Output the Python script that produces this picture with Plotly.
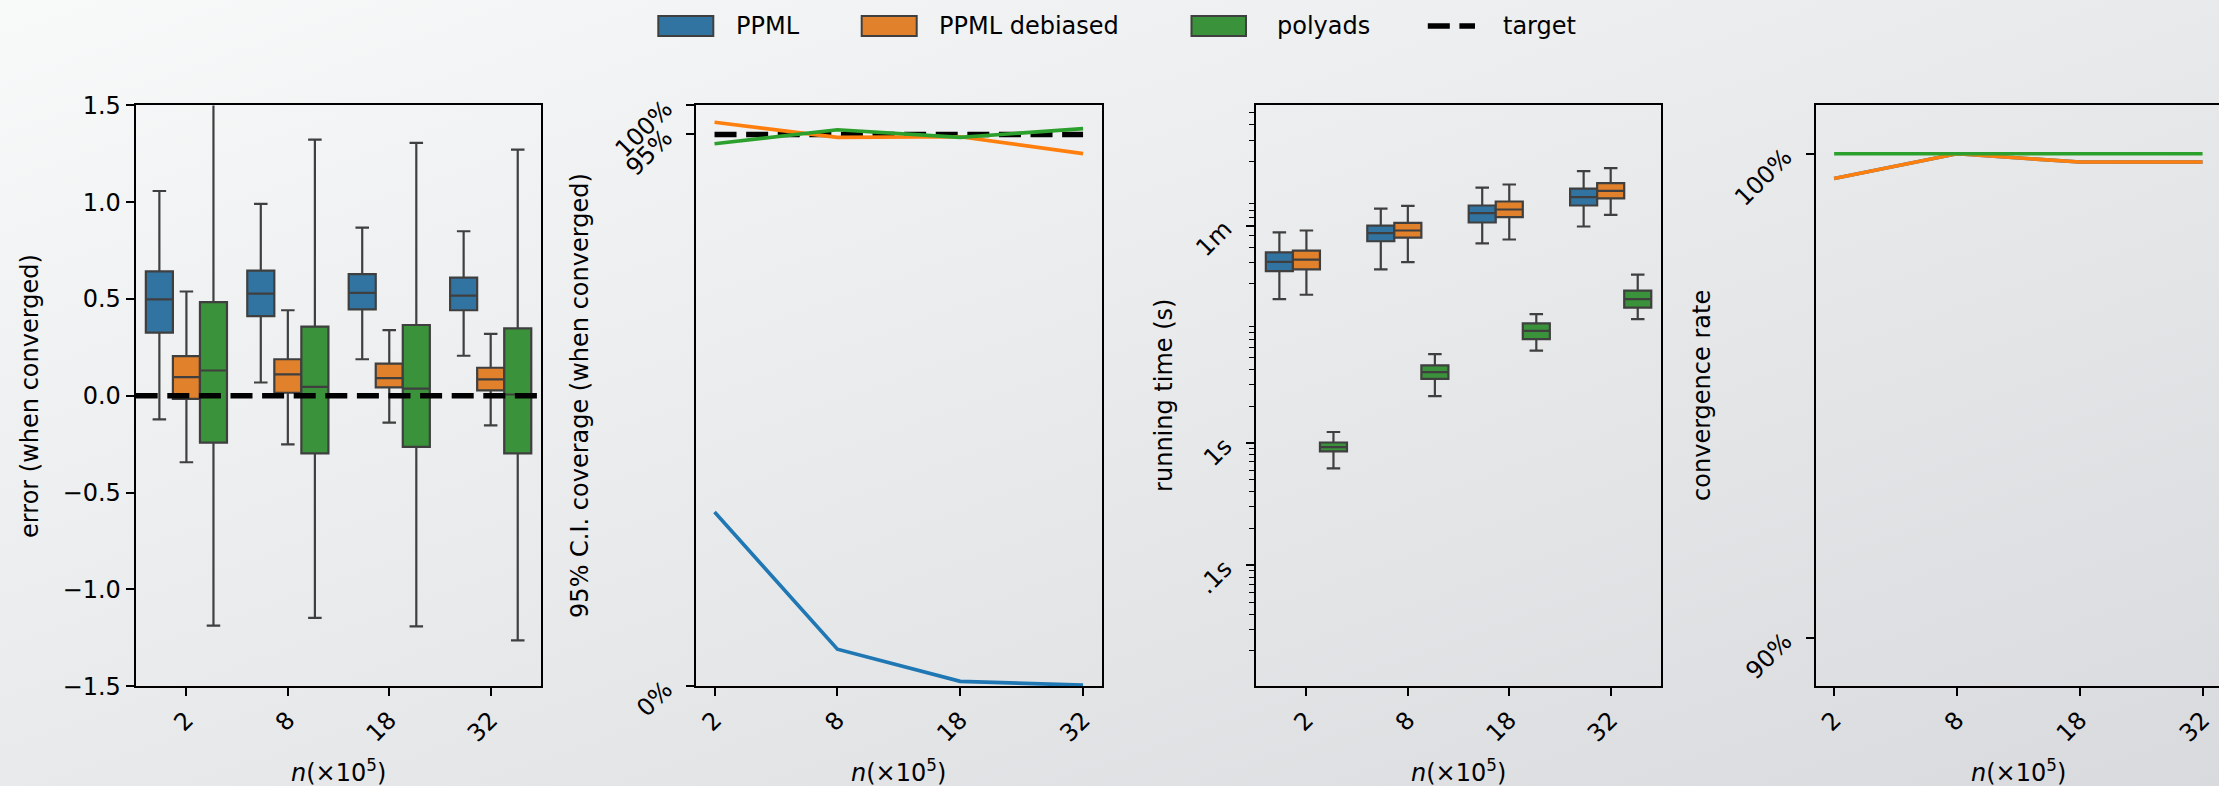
import base64
import plotly.graph_objects as go

# ---------------- data ----------------
CATEGORIES = ["2", "8", "18", "32"]
SERIES = ["PPML", "PPML debiased", "polyads"]

# error (when converged): box statistics per series, per category
ERR_LO = {"PPML": [-0.122, 0.069, 0.189, 0.207],
          "PPML debiased": [-0.343, -0.251, -0.138, -0.152],
          "polyads": [-1.187, -1.147, -1.191, -1.263]}
ERR_Q1 = {"PPML": [0.327, 0.412, 0.447, 0.442],
          "PPML debiased": [-0.016, 0.016, 0.044, 0.028],
          "polyads": [-0.242, -0.297, -0.263, -0.297]}
ERR_MED = {"PPML": [0.498, 0.528, 0.532, 0.518],
           "PPML debiased": [0.097, 0.111, 0.092, 0.085],
           "polyads": [0.131, 0.046, 0.037, 0.007]}
ERR_Q3 = {"PPML": [0.643, 0.647, 0.629, 0.611],
          "PPML debiased": [0.205, 0.189, 0.166, 0.145],
          "polyads": [0.484, 0.357, 0.366, 0.348]}
ERR_HI = {"PPML": [1.058, 0.991, 0.869, 0.850],
          "PPML debiased": [0.539, 0.442, 0.339, 0.320],
          "polyads": [1.62, 1.323, 1.306, 1.272]}
TARGET_ERROR = 0.0

# 95% C.I. coverage (when converged)
COVERAGE = {"PPML": [0.300, 0.064, 0.0085, 0.002],
            "PPML debiased": [0.971, 0.945, 0.946, 0.917],
            "polyads": [0.934, 0.958, 0.945, 0.960]}
TARGET_COVERAGE = 0.95

# running time (s)
TIME_LO = {"PPML": [15.0, 26.3, 42.8, 58.9],
           "PPML debiased": [16.3, 30.1, 46.1, 73.3],
           "polyads": [0.62, 2.42, 5.69, 10.3]}
TIME_Q1 = {"PPML": [25.4, 44.6, 63.5, 87.4],
           "PPML debiased": [26.3, 47.7, 70.3, 100.0],
           "polyads": [0.853, 3.35, 7.08, 12.8]}
TIME_MED = {"PPML": [30.3, 51.9, 75.8, 102.5],
            "PPML debiased": [31.6, 54.6, 81.1, 115.0],
            "polyads": [0.927, 3.80, 8.24, 15.0]}
TIME_Q3 = {"PPML": [36.2, 59.9, 87.4, 120.0],
           "PPML debiased": [37.4, 63.0, 94.3, 133.0],
           "polyads": [1.01, 4.31, 9.51, 17.6]}
TIME_HI = {"PPML": [52.8, 82.4, 122.3, 167.0],
           "PPML debiased": [54.6, 86.7, 129.8, 177.0],
           "polyads": [1.23, 5.32, 11.3, 23.8]}

# convergence rate
CONVERGENCE = {"PPML": [0.9949, 1.0, 0.9983, 0.9983],
               "PPML debiased": [0.9949, 1.0, 0.9983, 0.9983],
               "polyads": [1.0, 1.0, 1.0, 1.0]}

TIME_TICKS = [0.1, 1, 60]
TIME_TICK_TEXT = [".1s", "1s", "1m"]
TIME_MINOR = [m * 10 ** e for e in (-2, -1, 0, 1, 2) for m in range(2, 10) if m * 10 ** e < 600]

# ---------------- style ----------------
W, H = 2219, 786
BOX_COLORS = {"PPML": "#3274a1", "PPML debiased": "#e1812c", "polyads": "#3a923a"}
LINE_COLORS = {"PPML": "#1f77b4", "PPML debiased": "#ff7f0e", "polyads": "#2ca02c"}
EDGE = "#3f3f3f"
FONT = "DejaVu Sans"
FS = 24
DASH = "22px,9.6px"
BOX_W = 0.8 / 3
OFFSETS = {"PPML": -BOX_W, "PPML debiased": 0.0, "polyads": BOX_W}


def px(x):
    return x / W


def py(y):
    return 1 - y / H


YDOM = [py(686.3), py(105.4)]
XDOMS = [[px(135.7), px(541.4)], [px(696.1), px(1101.5)],
         [px(1255.7), px(1661.4)], [px(1815.7), 1.0]]

cat_idx = list(range(len(CATEGORIES)))

fig = go.Figure()

# panel 1: error boxes
for s in SERIES:
    fig.add_trace(go.Box(
        x=[i + OFFSETS[s] for i in cat_idx],
        q1=ERR_Q1[s], median=ERR_MED[s], q3=ERR_Q3[s],
        lowerfence=ERR_LO[s], upperfence=ERR_HI[s],
        width=BOX_W, whiskerwidth=0.5, fillcolor=BOX_COLORS[s],
        line=dict(color=EDGE, width=2.2), boxpoints=False,
        name=s, showlegend=False, xaxis="x", yaxis="y", hoverinfo="skip"))

# panel 2: coverage lines
fig.add_trace(go.Scatter(x=cat_idx, y=[TARGET_COVERAGE] * len(cat_idx), mode="lines",
                         line=dict(color="black", width=5.5, dash=DASH),
                         showlegend=False, xaxis="x2", yaxis="y2", hoverinfo="skip"))
for s in SERIES:
    fig.add_trace(go.Scatter(x=cat_idx, y=COVERAGE[s], mode="lines",
                             line=dict(color=LINE_COLORS[s], width=3.6),
                             showlegend=False, xaxis="x2", yaxis="y2", hoverinfo="skip"))

# panel 3: running time boxes
for s in SERIES:
    fig.add_trace(go.Box(
        x=[i + OFFSETS[s] for i in cat_idx],
        q1=TIME_Q1[s], median=TIME_MED[s], q3=TIME_Q3[s],
        lowerfence=TIME_LO[s], upperfence=TIME_HI[s],
        width=BOX_W, whiskerwidth=0.5, fillcolor=BOX_COLORS[s],
        line=dict(color=EDGE, width=2.2), boxpoints=False,
        name=s, showlegend=False, xaxis="x3", yaxis="y3", hoverinfo="skip"))

# panel 4: convergence lines
for s in SERIES:
    fig.add_trace(go.Scatter(x=cat_idx, y=CONVERGENCE[s], mode="lines",
                             line=dict(color=LINE_COLORS[s], width=3.6),
                             showlegend=False, xaxis="x4", yaxis="y4", hoverinfo="skip"))

tickfont = dict(family=FONT, size=FS, color="black")
base_axis = dict(showline=True, linecolor="black", linewidth=2, ticks="outside",
                 ticklen=8, tickwidth=2, tickcolor="black", showgrid=False,
                 zeroline=False, tickfont=tickfont, automargin=False)


def xax(dom, rng, anchor, mirror=True):
    return dict(base_axis, domain=dom, range=rng, anchor=anchor, mirror=mirror,
                tickmode="array", tickvals=cat_idx, ticktext=CATEGORIES, tickangle=-45)


ROT_STANDOFF = 16

layout = dict(
    width=W, height=H, margin=dict(l=0, r=0, t=0, b=0),
    paper_bgcolor="#e8e9eb", plot_bgcolor="rgba(0,0,0,0)",
    font=dict(family=FONT, size=FS, color="black"),
    showlegend=False,
    xaxis=xax(XDOMS[0], [-0.5, 3.5], "y"),
    yaxis=dict(base_axis, domain=YDOM, range=[-1.5, 1.5], anchor="x", mirror=True,
               tickmode="array", tickvals=[-1.5, -1.0, -0.5, 0.0, 0.5, 1.0, 1.5],
               tickformat=".1f"),
    xaxis2=xax(XDOMS[1], [-0.15, 3.15], "y2"),
    yaxis2=dict(base_axis, domain=YDOM, range=[0, 1], anchor="x2", mirror=True,
                tickmode="array", tickvals=[0, 0.95, 1.0], ticktext=["0%", "95%", "100%"],
                tickangle=-45, ticklabelstandoff=ROT_STANDOFF),
    xaxis3=xax(XDOMS[2], [-0.5, 3.5], "y3"),
    yaxis3=dict(base_axis, domain=YDOM, type="log", range=[-1.989, 2.76], anchor="x3",
                mirror=True, tickmode="array", tickvals=TIME_TICKS, ticktext=TIME_TICK_TEXT,
                tickangle=-45, ticklabelstandoff=ROT_STANDOFF,
                minor=dict(tickmode="array", tickvals=TIME_MINOR, ticks="outside",
                           ticklen=5, tickwidth=1.4, tickcolor="black", showgrid=False)),
    xaxis4=xax(XDOMS[3], [-0.15, 3.134], "y4", mirror=True),
    yaxis4=dict(base_axis, domain=YDOM, range=[0.89, 1.01], anchor="x4", mirror=False,
                tickmode="array", tickvals=[0.9, 1.0], ticktext=["90%", "100%"],
                tickangle=-45, ticklabelstandoff=ROT_STANDOFF),
)
fig.update_layout(**layout)

# target line in panel 1 (horizontal, across the axes)
fig.add_shape(type="line", xref="x domain", yref="y", x0=0, x1=1,
              y0=TARGET_ERROR, y1=TARGET_ERROR, layer="above",
              line=dict(color="black", width=5.5, dash=DASH))

# background gradient
svg = (f'<svg xmlns="http://www.w3.org/2000/svg" width="{W}" height="{H}" '
       f'viewBox="0 0 {W} {H}" preserveAspectRatio="none"><defs>'
       '<linearGradient id="g" x1="0" y1="0" x2="1" y2="1">'
       '<stop offset="0" stop-color="#f8f9f9"/><stop offset="1" stop-color="#d8dadd"/>'
       f'</linearGradient></defs><rect width="{W}" height="{H}" fill="url(#g)"/></svg>')
src = "data:image/svg+xml;base64," + base64.b64encode(svg.encode()).decode()
fig.add_layout_image(dict(source=src, xref="paper", yref="paper", x=0, y=1,
                          sizex=1, sizey=1, xanchor="left", yanchor="top",
                          sizing="stretch", layer="below"))

# axis titles
ytitles = [("error (when converged)", 30), ("95% C.I. coverage (when converged)", 580),
           ("running time (s)", 1164), ("convergence rate", 1702)]
for text, xc in ytitles:
    fig.add_annotation(text=text, xref="paper", yref="paper", x=px(xc), y=py(395.9),
                       textangle=-90, showarrow=False, xanchor="center", yanchor="middle",
                       font=dict(family=FONT, size=FS, color="black"))
xcenters = [338.6, 898.8, 1458.6, 2018.3]
for xc in xcenters:
    fig.add_annotation(text="<i>n</i>(×10<sup>5</sup>)", xref="paper", yref="paper",
                       x=px(xc), y=py(771), showarrow=False, xanchor="center",
                       yanchor="middle", font=dict(family=FONT, size=FS, color="black"))

# legend (drawn manually to match patch sizes)
LEG_Y0, LEG_Y1, LEG_YC = 16, 36, 26
patches = [("PPML", 658.3, 713.3, 735), ("PPML debiased", 861.7, 916.7, 938),
           ("polyads", 1191.5, 1246.0, 1276)]
for name, x0, x1, xt in patches:
    fig.add_shape(type="rect", xref="paper", yref="paper", x0=px(x0), x1=px(x1),
                  y0=py(LEG_Y1), y1=py(LEG_Y0), fillcolor=BOX_COLORS[name],
                  line=dict(color=EDGE, width=2))
    fig.add_annotation(text=name, xref="paper", yref="paper", x=px(xt), y=py(LEG_YC),
                       showarrow=False, xanchor="left", yanchor="middle", borderpad=0,
                       font=dict(family=FONT, size=FS, color="black"))
fig.add_shape(type="line", xref="paper", yref="paper", x0=px(1427.8), x1=px(1475),
              y0=py(LEG_YC), y1=py(LEG_YC), line=dict(color="black", width=5.5, dash=DASH))
fig.add_annotation(text="target", xref="paper", yref="paper", x=px(1502.4), y=py(LEG_YC),
                   showarrow=False, xanchor="left", yanchor="middle", borderpad=0,
                   font=dict(family=FONT, size=FS, color="black"))

fig.write_html("out.html",
               config={"displayModeBar": False},
               post_script="document.body.style.margin='0';"
                           "document.body.style.overflow='hidden';")
